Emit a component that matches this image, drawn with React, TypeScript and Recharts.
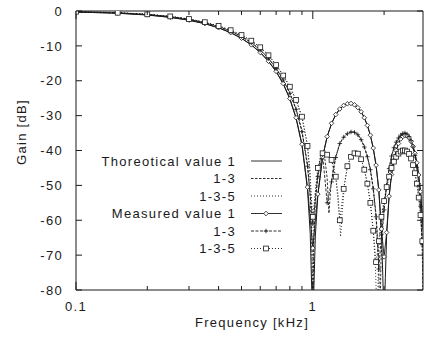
import React from 'react';
import { LineChart, Line, XAxis, YAxis } from 'recharts';

// ---- data ----
const th1Freq = [0.1,0.15,0.2,0.25,0.3,0.35,0.4,0.45,0.5,0.55,0.6,0.65,0.7,0.75,0.8,0.85,0.9,0.95,0.975,0.99,1.0,1.01,1.025,1.05,1.1,1.15,1.2,1.25,1.3,1.35,1.4,1.45,1.5,1.55,1.6,1.65,1.7,1.75,1.8,1.85,1.9,1.95,1.975,2.0,2.025,2.05,2.1,2.15,2.2,2.25,2.3,2.35,2.4,2.45,2.5,2.55,2.6,2.65,2.7,2.75,2.8,2.85,2.9,2.92];
const th1Gain = [-0.29,-0.65,-1.16,-1.82,-2.65,-3.65,-4.84,-6.23,-7.85,-9.72,-11.88,-14.41,-17.37,-20.91,-25.24,-30.78,-38.46,-51.22,-63.66,-79.8,-90,-80.2,-64.53,-52.96,-41.94,-36.03,-32.28,-29.78,-28.13,-27.1,-26.6,-26.56,-26.93,-27.71,-28.92,-30.59,-32.79,-35.63,-39.33,-44.29,-51.44,-63.71,-75.9,-90,-76.4,-64.58,-53.18,-46.9,-42.81,-39.99,-38.04,-36.73,-35.97,-35.67,-35.8,-36.36,-37.36,-38.82,-40.82,-43.48,-47.0,-51.8,-58.78,-62.7];

const th13Freq = [0.1,0.15,0.2,0.25,0.3,0.35,0.4,0.45,0.5,0.55,0.6,0.65,0.7,0.75,0.8,0.85,0.9,0.95,0.975,0.99,1.0,1.01,1.025,1.05,1.075,1.1,1.125,1.15,1.17,1.19,1.22,1.25,1.3,1.35,1.4,1.45,1.5,1.55,1.6,1.65,1.7,1.75,1.8,1.85,1.88,1.9,1.92,1.94,1.97,2.0,2.05,2.1,2.15,2.2,2.25,2.3,2.35,2.4,2.45,2.5,2.55,2.6,2.65,2.7,2.75,2.8,2.85,2.88,2.9,2.92];
const th13Gain = [-0.22,-0.52,-0.98,-1.6,-2.4,-3.35,-4.45,-5.75,-7.25,-9.0,-11.1,-13.5,-16.4,-19.7,-23.5,-28.1,-34.3,-44.0,-53.0,-65.0,-90,-66.0,-55.0,-47.0,-42.5,-41.0,-42.5,-48.0,-58.0,-51.0,-45.0,-41.8,-38.0,-36.1,-35.1,-34.6,-34.7,-35.4,-36.8,-38.9,-41.7,-45.4,-50.8,-58.5,-66.0,-74.0,-90,-72.0,-63.0,-56.5,-50.0,-45.2,-41.7,-39.3,-37.6,-36.4,-35.6,-35.1,-35.0,-35.3,-36.0,-37.2,-39.0,-41.4,-44.8,-49.5,-56.0,-62.0,-68.0,-80];

const th135Freq = [0.1,0.15,0.2,0.25,0.3,0.35,0.4,0.45,0.5,0.55,0.6,0.65,0.7,0.75,0.8,0.85,0.9,0.95,0.975,0.99,1.0,1.01,1.025,1.05,1.075,1.1,1.15,1.2,1.25,1.28,1.31,1.33,1.36,1.4,1.45,1.5,1.55,1.6,1.65,1.7,1.75,1.8,1.84,1.87,1.9,1.95,2.0,2.05,2.1,2.15,2.2,2.25,2.3,2.35,2.4,2.45,2.5,2.55,2.6,2.65,2.7,2.75,2.8,2.85,2.88,2.9,2.92];
const th135Gain = [-0.2,-0.48,-0.93,-1.52,-2.27,-3.17,-4.25,-5.48,-6.9,-8.5,-10.4,-12.6,-15.4,-18.4,-21.7,-25.5,-30.4,-38.6,-46,-58,-90,-60,-52,-45.5,-42,-40.8,-41.2,-42.8,-47.5,-53,-64.7,-58,-50,-44.5,-41.8,-40.8,-40.9,-42.4,-45.3,-49.4,-55,-63,-74,-90,-68,-59.5,-54.5,-50.6,-47.5,-45,-43.2,-41.8,-40.9,-40.3,-40,-40,-40.3,-41,-42.3,-44.1,-46.5,-49.5,-53.5,-58.5,-64,-70,-82];

const measFreq = [0.1,0.15,0.2,0.25,0.3,0.35,0.4,0.45,0.5,0.55,0.6,0.65,0.7,0.75,0.8,0.85,0.9,0.95,1.0,1.05,1.1,1.15,1.2,1.25,1.3,1.35,1.4,1.45,1.5,1.55,1.6,1.65,1.7,1.75,1.8,1.85,1.9,1.95,2.0,2.05,2.1,2.15,2.2,2.25,2.3,2.35,2.4,2.45,2.5,2.55,2.6,2.65,2.7,2.75,2.8,2.85,2.9];
const meas1Gain = [-0.3,-0.6,-1.1,-1.8,-2.6,-3.6,-4.8,-6.2,-7.8,-9.7,-11.9,-14.4,-17.3,-20.8,-25.1,-30.6,-38.2,-50.5,-68,-52.5,-41.8,-36,-32.2,-29.7,-28.1,-27.1,-26.6,-26.5,-26.9,-27.7,-28.9,-30.6,-32.8,-35.6,-39.3,-44.2,-51.3,-62.5,-70.5,-63.5,-53.1,-46.9,-42.8,-40,-38,-36.7,-36,-35.7,-35.8,-36.4,-37.4,-38.8,-40.8,-43.5,-47,-51.8,-58.7];
const meas13Gain = [-0.2,-0.5,-1.0,-1.6,-2.4,-3.4,-4.5,-5.8,-7.3,-9.1,-11.2,-13.6,-16.5,-19.8,-23.6,-28.2,-34.6,-44.5,-61,-47.5,-41.2,-55,-49,-42,-38,-36.2,-35.2,-34.7,-34.8,-35.5,-36.9,-39,-41.8,-45.5,-51,-59,-74,-64,-57,-50,-45.2,-41.6,-39.2,-37.6,-36.4,-35.6,-35.1,-35,-35.3,-36,-37.2,-39,-41.4,-44.8,-49.5,-56,-67];
const meas135Gain = [-0.2,-0.5,-0.95,-1.55,-2.3,-3.2,-4.3,-5.5,-6.9,-8.5,-10.4,-12.7,-15.5,-18.5,-21.7,-25.5,-30.3,-38.7,-59,-45,-40.8,-41.2,-42.7,-47.5,-60,-51,-44.5,-41.8,-40.8,-40.9,-42.5,-45.5,-49.5,-55,-63,-72,-66,-59,-54.5,-50.5,-47.5,-45,-43.2,-41.8,-40.9,-40.3,-40,-40,-40.3,-41,-42.3,-44.2,-46.5,-49.5,-53.5,-58.5,-66];

const xTicks = [0.1,0.2,0.3,0.4,0.5,0.6,0.7,0.8,0.9,1,2];
const xLabeled = [0.1, 1];
const yTicks = [0,-10,-20,-30,-40,-50,-60,-70,-80];
const legendLabels = ['Thoreotical value 1','1-3','1-3-5','Measured value 1','1-3','1-3-5'];

const zip = (f: number[], g: number[]) => f.slice(0, Math.min(f.length, g.length)).map((v, i) => ({ f: v, g: g[i] }));

const th1 = zip(th1Freq, th1Gain);
const th13 = zip(th13Freq, th13Gain);
const th135 = zip(th135Freq, th135Gain);
const m1 = zip(measFreq, meas1Gain);
const m13 = zip(measFreq, meas13Gain);
const m135 = zip(measFreq, meas135Gain);

const INK = '#1a1a1a';
const FONT = '"Liberation Sans", Arial, Helvetica, sans-serif';
const textStyle = { fontFamily: FONT, fontSize: 13, letterSpacing: 1.3, fill: INK } as const;

const Diamond = ({ cx, cy }: { cx: number; cy: number }) => (
  <path d={`M${cx},${cy - 2.3}L${cx + 2.3},${cy}L${cx},${cy + 2.3}L${cx - 2.3},${cy}Z`} fill="#fff" stroke={INK} strokeWidth={0.8} />
);
const Plus = ({ cx, cy }: { cx: number; cy: number }) => (
  <path d={`M${cx - 2.3},${cy}H${cx + 2.3}M${cx},${cy - 2.3}V${cy + 2.3}`} stroke={INK} strokeWidth={0.8} fill="none" />
);
const Square = ({ cx, cy }: { cx: number; cy: number }) => (
  <rect x={cx - 2.4} y={cy - 2.4} width={4.8} height={4.8} fill="#fff" stroke={INK} strokeWidth={0.8} />
);

const dotFn = (Comp: any) => (props: any) => {
  const { cx, cy, index } = props;
  if (cx == null || cy == null || isNaN(cx) || isNaN(cy)) return <g key={index} />;
  return <g key={index}><Comp cx={cx} cy={cy} /></g>;
};

const LeftTick = (props: any) => {
  const { x, y, payload } = props;
  return (
    <g>
      <line x1={x} y1={y} x2={x + 6} y2={y} stroke={INK} strokeWidth={1} />
      <text x={x - 13} y={y} dy="0.36em" textAnchor="end" style={textStyle}>{payload.value}</text>
    </g>
  );
};
const RightTick = (props: any) => {
  const { x, y } = props;
  return <line x1={x} y1={y} x2={x - 6} y2={y} stroke={INK} strokeWidth={1} />;
};
const BottomTick = (props: any) => {
  const { x, y, payload } = props;
  const major = xLabeled.includes(payload.value);
  return (
    <g>
      <line x1={x} y1={y} x2={x} y2={y - (major ? 8 : 4)} stroke={INK} strokeWidth={1} />
      {major && (
        <text x={x} y={y + 21} textAnchor="middle" style={textStyle}>{String(payload.value)}</text>
      )}
    </g>
  );
};
const TopTick = (props: any) => {
  const { x, y, payload } = props;
  const major = xLabeled.includes(payload.value);
  return <line x1={x} y1={y} x2={x} y2={y + (major ? 8 : 4)} stroke={INK} strokeWidth={1} />;
};

const legendStyles = [
  { dash: undefined, marker: null },
  { dash: '2.5 1.5', marker: null },
  { dash: '1 2', marker: null },
  { dash: undefined, marker: Diamond },
  { dash: '3 1.5', marker: Plus },
  { dash: '1 2', marker: Square },
];

export default function App() {
  const W = 427, H = 337;
  return (
    <div style={{ position: 'absolute', left: 0, top: 0, width: W, height: H, background: '#fff' }}>
      <LineChart width={W} height={H} margin={{ top: 0, right: 0, bottom: 0, left: 0 }}>
        <XAxis xAxisId="b" dataKey="f" type="number" scale="log" domain={[0.1, 2.92]} allowDataOverflow
          ticks={xTicks} interval={0} tick={BottomTick} tickLine={false} tickSize={0} tickMargin={0}
          height={47} axisLine={{ stroke: INK, strokeWidth: 1 }} orientation="bottom" />
        <XAxis xAxisId="t" dataKey="f" type="number" scale="log" domain={[0.1, 2.92]} allowDataOverflow
          ticks={xTicks} interval={0} tick={TopTick} tickLine={false} tickSize={0} tickMargin={0}
          height={11} axisLine={{ stroke: INK, strokeWidth: 1 }} orientation="top" />
        <YAxis yAxisId="l" type="number" domain={[-80, 0]} allowDataOverflow ticks={yTicks} interval={0}
          tick={LeftTick} tickLine={false} tickSize={0} tickMargin={0} width={76}
          axisLine={{ stroke: INK, strokeWidth: 1 }} orientation="left" />
        <YAxis yAxisId="r" type="number" domain={[-80, 0]} allowDataOverflow ticks={yTicks} interval={0}
          tick={RightTick} tickLine={false} tickSize={0} tickMargin={0} width={4}
          axisLine={{ stroke: INK, strokeWidth: 1 }} orientation="right" />

        <Line xAxisId="b" yAxisId="l" data={th1} dataKey="g" type="linear" stroke={INK} strokeWidth={1} dot={false} isAnimationActive={false} />
        <Line xAxisId="b" yAxisId="l" data={th13} dataKey="g" type="linear" stroke={INK} strokeWidth={0.9} strokeDasharray="2.5 1.5" dot={false} isAnimationActive={false} />
        <Line xAxisId="b" yAxisId="l" data={th135} dataKey="g" type="linear" stroke={INK} strokeWidth={0.9} strokeDasharray="1 2" dot={false} isAnimationActive={false} />
        <Line xAxisId="b" yAxisId="l" data={m1} dataKey="g" type="linear" stroke={INK} strokeWidth={0.9} dot={dotFn(Diamond)} isAnimationActive={false} />
        <Line xAxisId="b" yAxisId="l" data={m13} dataKey="g" type="linear" stroke={INK} strokeWidth={0.9} strokeDasharray="3 1.5" dot={dotFn(Plus)} isAnimationActive={false} />
        <Line xAxisId="b" yAxisId="l" data={m135} dataKey="g" type="linear" stroke={INK} strokeWidth={0.9} strokeDasharray="1 2" dot={dotFn(Square)} isAnimationActive={false} />
      </LineChart>
      <svg width={W} height={H} style={{ position: 'absolute', left: 0, top: 0, pointerEvents: 'none' }}>
        <text x={26} y={132} textAnchor="middle" transform="rotate(-90 26 132)" style={textStyle}>Gain [dB]</text>
        <text x={252} y={327} textAnchor="middle" style={textStyle}>Frequency [kHz]</text>
        {legendLabels.map((lab, i) => {
          const y = 161 + i * 17.5;
          const st = legendStyles[i];
          const M = st.marker as any;
          return (
            <g key={i}>
              <text x={236} y={y} dy="0.36em" textAnchor="end" style={textStyle}>{lab}</text>
              <line x1={251} y1={y} x2={282} y2={y} stroke={INK} strokeWidth={0.9} strokeDasharray={st.dash} />
              {M && <M cx={266} cy={y} />}
            </g>
          );
        })}
      </svg>
    </div>
  );
}
